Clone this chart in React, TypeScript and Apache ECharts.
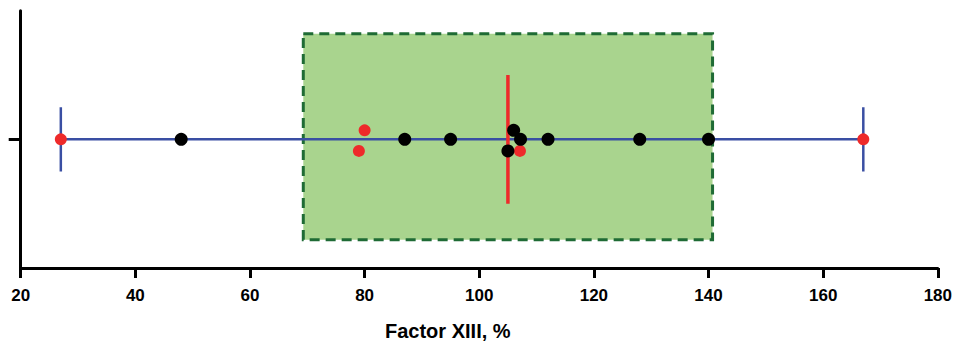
import React, { useEffect, useRef } from "react";
import * as echarts from "echarts";

const xTicks = [20, 40, 60, 80, 100, 120, 140, 160, 180];
const rangeMin = 27;
const rangeMax = 167;
const median = 105;
const boxLow = 69.3;
const boxHigh = 140.7;
const boxTop = 0.82;
const boxBottom = -0.78;
const capHalf = 0.25;
const medianHalf = 0.5;
const blackPoints: [number, number][] = [
  [48, 0], [87, 0], [95, 0], [105, -0.09], [106, 0.07], [107.2, 0], [112, 0], [128, 0], [140, 0],
];
const redPoints: [number, number][] = [
  [27, 0], [80, 0.07], [79, -0.09], [107.1, -0.09], [167, 0],
];
const axisTitle = "Factor XIII, %";

export default function App() {
  const ref = useRef<HTMLDivElement>(null);
  useEffect(() => {
    if (!ref.current) return;
    const chart = echarts.init(ref.current, null, { renderer: "svg" });
    const font = "'Liberation Sans', Arial, sans-serif";
    const blue = "#3a4fa3";
    const red = "#ee2a2a";
    chart.setOption({
      animation: false,
      grid: { left: 20.7, right: 10, top: 10.7, bottom: 74 },
      xAxis: {
        type: "value",
        min: xTicks[0],
        max: xTicks[xTicks.length - 1],
        interval: 20,
        splitLine: { show: false },
        axisLine: { show: true, onZero: false, lineStyle: { color: "#000", width: 3 } },
        axisTick: { show: true, length: 10, lineStyle: { color: "#000", width: 3 } },
        axisLabel: { color: "#000", fontSize: 17, fontWeight: "bold", fontFamily: font, margin: 19 },
      },
      yAxis: {
        type: "value",
        min: -1,
        max: 1,
        interval: 1,
        splitLine: { show: false },
        axisLine: { show: true, onZero: false, lineStyle: { color: "#000", width: 3 } },
        axisTick: { show: true, length: 12, customValues: [0], lineStyle: { color: "#000", width: 3 } },
        axisLabel: { show: false },
      },
      graphic: [
        {
          type: "text",
          left: 385,
          top: 321,
          style: { text: axisTitle, font: `bold 20px ${font}`, fill: "#000" },
        },
      ],
      series: [
        {
          type: "line",
          data: [[rangeMin, 0], [rangeMax, 0]],
          symbol: "none",
          lineStyle: { color: blue, width: 2.5 },
          z: 2,
          markArea: {
            silent: true,
            itemStyle: {
              color: "#a9d48e",
              borderColor: "#1f6b35",
              borderWidth: 3,
              borderType: [10, 6],
            },
            data: [[{ coord: [boxLow, boxTop] }, { coord: [boxHigh, boxBottom] }]],
            z: 1,
          },
        },
        {
          type: "line",
          data: [[rangeMin, -capHalf], [rangeMin, capHalf]],
          symbol: "none",
          lineStyle: { color: blue, width: 2.5 },
          z: 3,
        },
        {
          type: "line",
          data: [[rangeMax, -capHalf], [rangeMax, capHalf]],
          symbol: "none",
          lineStyle: { color: blue, width: 2.5 },
          z: 3,
        },
        {
          type: "line",
          data: [[median, -medianHalf], [median, medianHalf]],
          symbol: "none",
          lineStyle: { color: red, width: 3.5 },
          z: 4,
        },
        {
          type: "scatter",
          data: redPoints,
          symbolSize: 12,
          itemStyle: { color: red, opacity: 1 },
          z: 5,
        },
        {
          type: "scatter",
          data: blackPoints,
          symbolSize: 13,
          itemStyle: { color: "#000", opacity: 1 },
          z: 6,
        },
      ],
    });
    return () => chart.dispose();
  }, []);
  return (
    <div
      ref={ref}
      style={{ position: "fixed", left: 0, top: 0, width: 955, height: 342, background: "#fff" }}
    />
  );
}
